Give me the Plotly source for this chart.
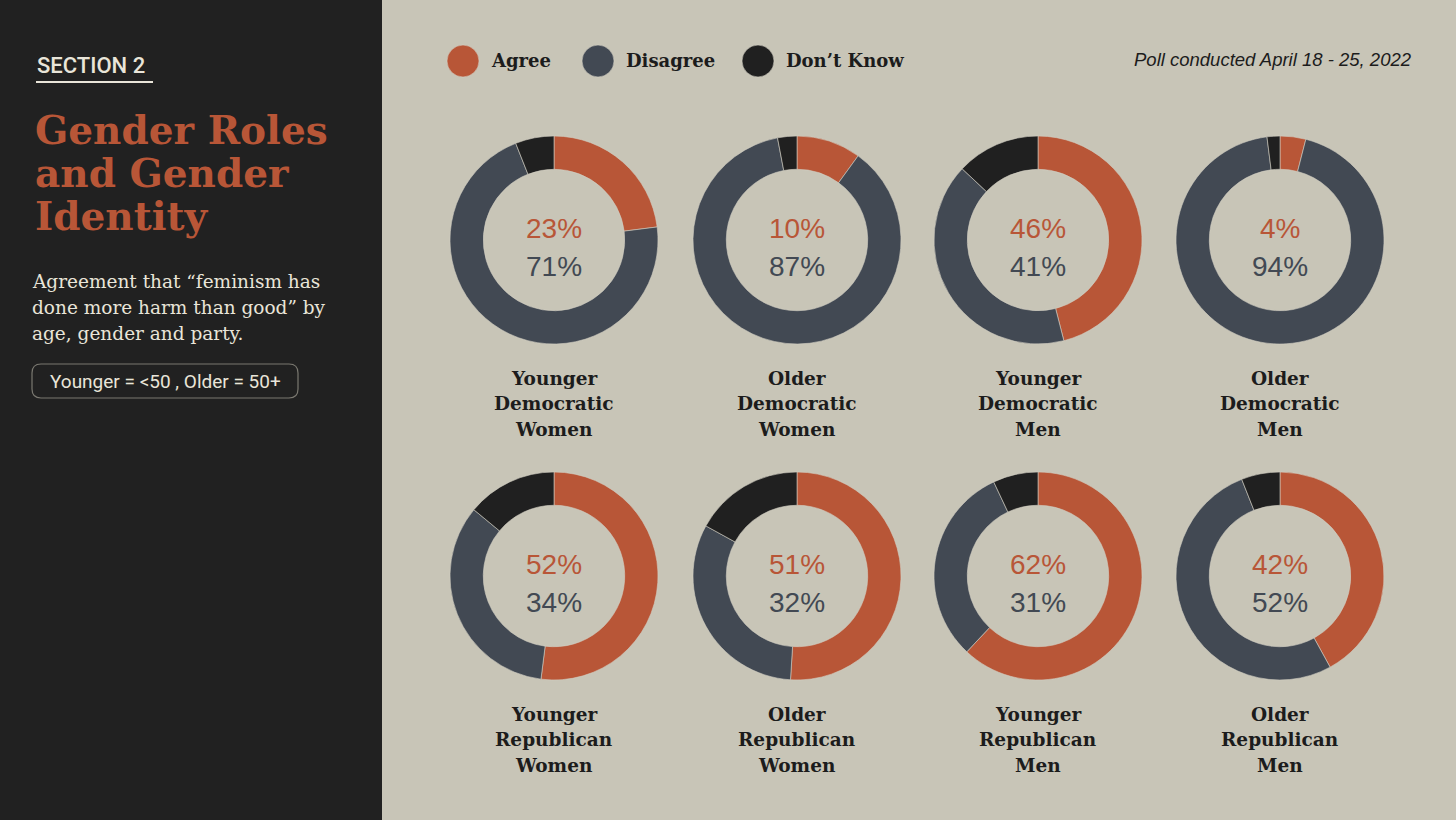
import plotly.graph_objects as go

W, H = 1456, 820

# data
groups = ['Younger<br>Democratic<br>Women', 'Older<br>Democratic<br>Women',
          'Younger<br>Democratic<br>Men', 'Older<br>Democratic<br>Men',
          'Younger<br>Republican<br>Women', 'Older<br>Republican<br>Women',
          'Younger<br>Republican<br>Men', 'Older<br>Republican<br>Men']
answers = ['Agree', 'Disagree', 'Don\u2019t Know']
agree = [23, 10, 46, 4, 52, 51, 62, 42]
disagree = [71, 87, 41, 94, 34, 32, 31, 52]
dont_know = [6, 3, 13, 2, 14, 17, 7, 6]

ORANGE = '#B85637'
SLATE = '#424953'
BLACK = '#202020'
BG = '#C8C5B7'
PANEL = '#212121'
LIGHT = '#E9E5D9'
INK = '#1C1C1C'
colors = [ORANGE, SLATE, BLACK]

SERIF = 'DejaVu Serif'
SANS = 'Liberation Sans'

# layout geometry in pixels
col_x = [554, 797, 1038, 1280]
row_y = [240, 576]
R = 104


def px(x):
    return x / W


def py(y):
    return 1 - y / H


fig = go.Figure()
annotations = []

for i, name in enumerate(groups):
    cx = col_x[i % 4]
    cy = row_y[i // 4]
    fig.add_trace(go.Pie(
        labels=answers,
        values=[agree[i], disagree[i], dont_know[i]],
        hole=0.68,
        sort=False,
        direction='clockwise',
        rotation=0,
        textinfo='none',
        hoverinfo='label+percent',
        showlegend=False,
        marker=dict(colors=colors, line=dict(color='#D2CFC2', width=0.6)),
        domain=dict(x=[px(cx - R), px(cx + R)], y=[py(cy + R), py(cy - R)]),
    ))
    annotations.append(dict(x=px(cx), y=py(cy - 12), text=f'{agree[i]}%',
                            font=dict(family=SANS, size=28, color=ORANGE)))
    annotations.append(dict(x=px(cx), y=py(cy + 26), text=f'{disagree[i]}%',
                            font=dict(family=SANS, size=28, color=SLATE)))
    for k, line in enumerate(name.split('<br>')):
        annotations.append(dict(x=px(cx), y=py(cy + 138 + 25.5 * k), text=f'<b>{line}</b>',
                                font=dict(family=SERIF, size=18.5, color=INK)))

# left panel text
annotations.append(dict(x=px(35), y=py(66), xanchor='left', text='SECTION 2',
                        font=dict(family='Roboto', size=22, color=LIGHT, weight=500)))
for k, line in enumerate(['Gender Roles', 'and Gender', 'Identity']):
    annotations.append(dict(x=px(33), y=py(130 + 43 * k), xanchor='left',
                            text=f'<b>{line}</b>',
                            font=dict(family=SERIF, size=39, color=ORANGE)))
for k, line in enumerate(['Agreement that \u201cfeminism has',
                          'done more harm than good\u201d by',
                          'age, gender and party.']):
    annotations.append(dict(x=px(30), y=py(281 + 26 * k), xanchor='left', text=line,
                            font=dict(family=SERIF, size=18.5, color=LIGHT)))
annotations.append(dict(x=px(165), y=py(381), text='Younger = <50 , Older = 50+',
                        font=dict(family='Roboto', size=19, color=LIGHT)))

# legend
legend_x = [463, 598, 758]
for lx, lab in zip(legend_x, answers):
    annotations.append(dict(x=px(lx + 26), y=py(61), xanchor='left', text=f'<b>{lab}</b>',
                            font=dict(family=SERIF, size=18, color=INK)))
annotations.append(dict(x=px(1414), y=py(60), xanchor='right',
                        text='<i>Poll conducted April 18 - 25, 2022</i>',
                        font=dict(family=SANS, size=18.5, color=INK)))

for a in annotations:
    a.setdefault('xanchor', 'center')
    a.update(xref='paper', yref='paper', yanchor='middle', showarrow=False)

shapes = [
    dict(type='rect', xref='paper', yref='paper', x0=0, x1=px(382), y0=0, y1=1,
         fillcolor=PANEL, line=dict(width=0), layer='below'),
    dict(type='line', xref='paper', yref='paper', x0=px(36), x1=px(153),
         y0=py(82), y1=py(82), line=dict(color=LIGHT, width=2)),
]
for lx, c in zip(legend_x, colors):
    shapes.append(dict(type='circle', xref='paper', yref='paper',
                       x0=px(lx - 16), x1=px(lx + 16), y0=py(61 + 16), y1=py(61 - 16),
                       fillcolor=c, line=dict(color='#D2CFC2', width=0.6)))

# rounded box around the age note
x0, x1, y0, y1, r = 32, 298, 364, 398, 9
box = (f'M {px(x0 + r)} {py(y0)} L {px(x1 - r)} {py(y0)} '
       f'Q {px(x1)} {py(y0)} {px(x1)} {py(y0 + r)} L {px(x1)} {py(y1 - r)} '
       f'Q {px(x1)} {py(y1)} {px(x1 - r)} {py(y1)} L {px(x0 + r)} {py(y1)} '
       f'Q {px(x0)} {py(y1)} {px(x0)} {py(y1 - r)} L {px(x0)} {py(y0 + r)} '
       f'Q {px(x0)} {py(y0)} {px(x0 + r)} {py(y0)} Z')
shapes.append(dict(type='path', xref='paper', yref='paper', path=box,
                   line=dict(color='#7A7870', width=1.2)))

fig.update_layout(
    width=W, height=H,
    margin=dict(l=0, r=0, t=0, b=0),
    paper_bgcolor=BG,
    plot_bgcolor=BG,
    annotations=annotations,
    shapes=shapes,
)

# drop the page's default body margin so the figure sits at the window corner
fig.write_html('out.html', config={'displayModeBar': False},
               post_script="document.body.style.margin='0';")
